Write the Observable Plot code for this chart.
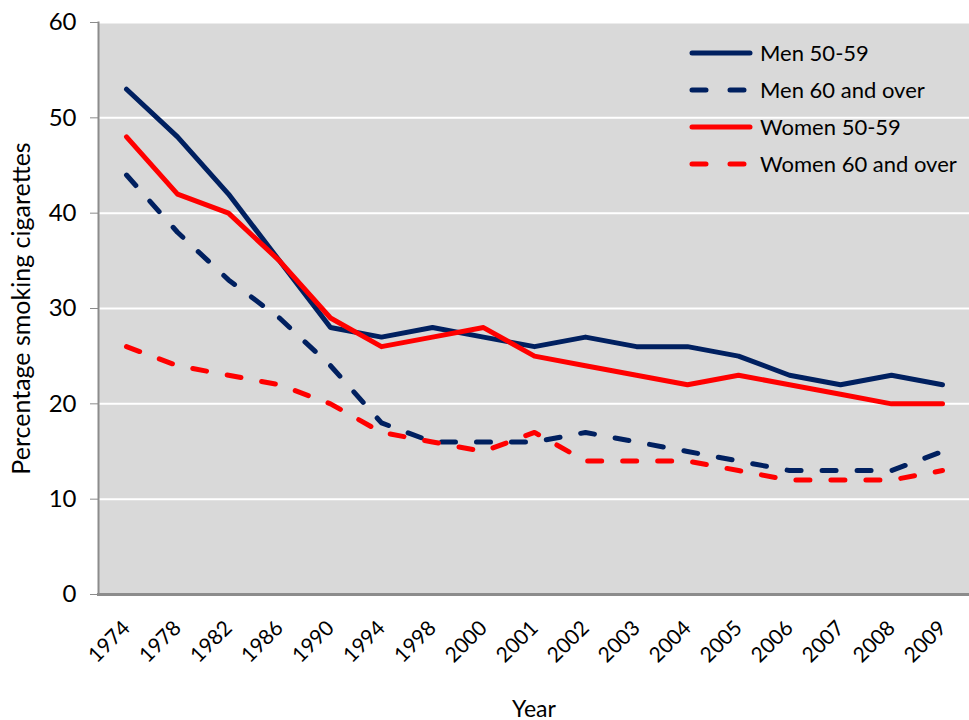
<!DOCTYPE html>
<html>
<head>
<meta charset="utf-8">
<script src="https://cdn.jsdelivr.net/npm/d3@7"></script>
<script src="https://cdn.jsdelivr.net/npm/@observablehq/plot@0.6"></script>
<style>
  html, body { margin: 0; padding: 0; background: #fff; }
  #wrap { position: relative; width: 969px; height: 720px; font-family: Lato, "Open Sans", sans-serif; }
  #legend { position: absolute; left: 688px; top: 34px; font-size: 22px; color: #000; }
  #legend .row { display: flex; align-items: center; height: 37px; }
  #legend svg { margin-right: 6px; }
  #wrap svg g[aria-label="y-axis label"] { font-size: 25px; }
  #wrap svg g[aria-label="x-axis label"] { font-size: 23px; }
</style>
</head>
<body>
<div id="wrap"></div>
<script>
const years = ["1974","1978","1982","1986","1990","1994","1998","2000","2001","2002","2003","2004","2005","2006","2007","2008","2009"];
const men5059   = [53, 48, 42, 35, 28, 27, 28, 27, 26, 27, 26, 26, 25, 23, 22, 23, 22];
const men60     = [44, 38, 33, 29, 24, 18, 16, 16, 16, 17, 16, 15, 14, 13, 13, 13, 15];
const women5059 = [48, 42, 40, 35, 29, 26, 27, 28, 25, 24, 23, 22, 23, 22, 21, 20, 20];
const women60   = [26, 24, 23, 22, 20, 17, 16, 15, 17, 14, 14, 14, 13, 12, 12, 12, 13];
const yTicks = [0, 10, 20, 30, 40, 50, 60];

const seriesNames = ["Men 50-59", "Men 60 and over", "Women 50-59", "Women 60 and over"];
const seriesValues = [men5059, men60, women5059, women60];
const seriesColor = ["#002060", "#002060", "#ff0000", "#ff0000"];
const seriesDashed = [false, true, false, true];

const dash = "14,21";

const rows = (vals, name) => years.map((y, i) => ({year: y, value: vals[i], series: name}));

const marks = [
  Plot.frame({fill: "#d9d9d9", stroke: null}),
  Plot.gridY(yTicks, {stroke: "#fff", strokeOpacity: 1, strokeWidth: 2}),
  Plot.frame({anchor: "left", stroke: "#8c8c8c", strokeWidth: 2}),
  Plot.frame({anchor: "bottom", stroke: "#8c8c8c", strokeWidth: 3}),
];
seriesNames.forEach((name, i) => {
  marks.push(Plot.line(rows(seriesValues[i], name), {
    x: "year", y: "value",
    stroke: seriesColor[i], strokeWidth: 5,
    strokeLinecap: "round", strokeLinejoin: "round",
    strokeDasharray: seriesDashed[i] ? dash : null
  }));
});
marks.push(
  Plot.axisY({ticks: yTicks, tickSize: 8, tickPadding: 14, stroke: "#8c8c8c", fontSize: 24,
    label: "Percentage smoking cigarettes", labelAnchor: "center", labelArrow: "none", labelOffset: 86}),
  Plot.axisX({tickSize: 0, tickPadding: 30, tickRotate: -45, fontSize: 21,
    label: "Year", labelAnchor: "center", labelArrow: "none", labelOffset: 122})
);

const chart = Plot.plot({
  width: 969,
  height: 720,
  marginLeft: 98,
  marginRight: 0,
  marginTop: 22,
  marginBottom: 126,
  style: {fontFamily: "Lato, 'Open Sans', sans-serif", fontSize: "22px", color: "#000", background: "#fff"},
  x: {type: "point", domain: years, padding: 0.5},
  y: {domain: [0, 60]},
  marks
});
const wrap = document.getElementById("wrap");
wrap.appendChild(chart);

// legend
const legend = document.createElement("div");
legend.id = "legend";
seriesNames.forEach((name, i) => {
  const row = document.createElement("div");
  row.className = "row";
  row.innerHTML = `<svg width="66" height="10"><line x1="4" y1="5" x2="62" y2="5" stroke="${seriesColor[i]}" stroke-width="5" stroke-linecap="round" ${seriesDashed[i] ? 'stroke-dasharray="14,24"' : ''}/></svg><span>${name}</span>`;
  legend.appendChild(row);
});
wrap.appendChild(legend);
</script>
</body>
</html>
